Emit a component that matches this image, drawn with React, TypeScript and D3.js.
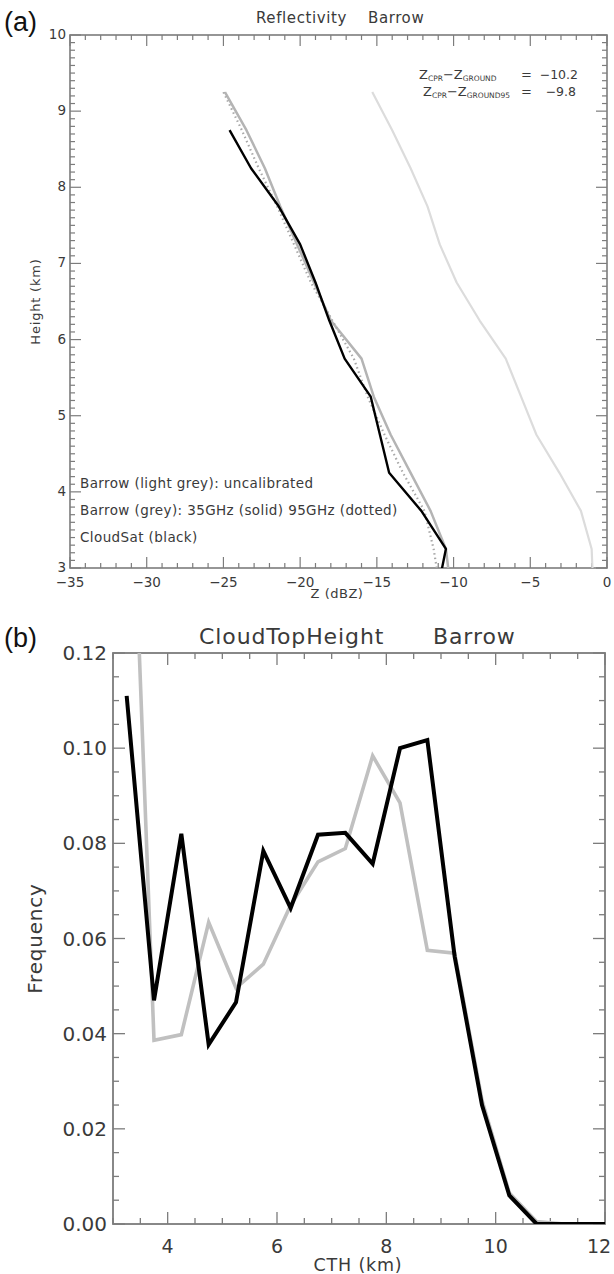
import React from "react";
import * as d3 from "d3";

// ---------- Panel (a): Reflectivity profiles ----------
const profileHeights = [9.25, 8.75, 8.25, 7.75, 7.25, 6.75, 6.25, 5.75, 5.25, 4.75, 4.25, 3.75, 3.25, 2.75];
const zUncalibrated = [-15.3, -14.0, -12.8, -11.7, -10.9, -9.8, -8.3, -6.6, -5.6, -4.6, -3.1, -1.7, -1.0, -0.9];
const z35GHz = [-24.9, -23.5, -22.3, -21.3, -20.2, -19.1, -18.0, -16.0, -15.2, -14.1, -12.8, -11.5, -10.5, -10.2];
const z95GHz = [-25.0, -23.8, -22.7, -21.5, -20.4, -19.3, -17.9, -16.5, -15.6, -14.5, -13.3, -11.9, -11.3, -10.9];
const cloudSatHeights = [8.75, 8.25, 7.75, 7.25, 6.75, 6.25, 5.75, 5.25, 4.75, 4.25, 3.75, 3.25, 2.75];
const zCloudSat = [-24.6, -23.2, -21.4, -20.0, -19.0, -18.1, -17.1, -15.4, -14.8, -14.2, -12.1, -10.5, -11.0];

const zTicks = [-35, -30, -25, -20, -15, -10, -5, 0];
const heightTicks = [3, 4, 5, 6, 7, 8, 9, 10];
const legendLines = [
  "Barrow (light grey): uncalibrated",
  "Barrow (grey): 35GHz (solid) 95GHz (dotted)",
  "CloudSat (black)",
];
const annotationValues = ["\u221210.2", "\u22129.8"];

// ---------- Panel (b): Cloud top height ----------
const cthBins = [3.25, 3.75, 4.25, 4.75, 5.25, 5.75, 6.25, 6.75, 7.25, 7.75, 8.25, 8.75, 9.25, 9.75, 10.25, 10.75, 11.25, 11.75, 12.25];
const freqCloudSat = [0.111, 0.047, 0.082, 0.0377, 0.0466, 0.0784, 0.0664, 0.0818, 0.0822, 0.0757, 0.1, 0.1017, 0.0562, 0.025, 0.006, 0, 0, 0, 0];
const freqGround = [0.19, 0.0386, 0.0398, 0.0634, 0.0496, 0.0546, 0.067, 0.0761, 0.0789, 0.0984, 0.0885, 0.0575, 0.0569, 0.026, 0.0065, 0.0005, 0, 0, 0];
const cthTicks = [4, 6, 8, 10, 12];
const freqTicks = [0, 0.02, 0.04, 0.06, 0.08, 0.1, 0.12];

const FONT = "'DejaVu Sans', sans-serif";
const AXIS = "#7c7c7c";
const TXT = "#3a3a3a";

export default function App() {
  // scales panel a
  const xA = d3.scaleLinear().domain([-35, 0]).range([70, 607]);
  const yA = d3.scaleLinear().domain([3, 10]).range([568, 35]);
  // scales panel b
  const xB = d3.scaleLinear().domain([3, 12]).range([113, 605]);
  const yB = d3.scaleLinear().domain([0, 0.12]).range([1224, 653]);

  const profLine = (zs: number[], hs: number[]) =>
    d3.line<number>().x((_, i) => xA(zs[i])).y((_, i) => yA(hs[i]))(zs) || "";
  const cthLine = (fs: number[]) =>
    d3.line<number>().x((_, i) => xB(cthBins[i])).y((_, i) => yB(fs[i]))(fs) || "";

  const [ax0, ax1] = xA.range();
  const [ay0, ay1] = yA.range(); // bottom, top
  const [bx0, bx1] = xB.range();
  const [by0, by1] = yB.range();

  const zMinor = d3.range(-35, 0.001, 1);
  const hMinor = d3.range(3, 10.0001, 0.1);
  const cthMinor = d3.range(3, 12.001, 0.5);
  const fMinor = d3.range(0, 0.12001, 0.005);

  return (
    <svg width={614} height={1274} style={{ position: "absolute", left: 0, top: 0, background: "#fff" }} fontFamily={FONT}>
      <defs>
        <clipPath id="clipA"><rect x={ax0} y={ay1} width={ax1 - ax0} height={ay0 - ay1} /></clipPath>
        <clipPath id="clipB"><rect x={bx0} y={by1} width={bx1 - bx0} height={by0 - by1} /></clipPath>
      </defs>

      {/* ================= Panel (a) ================= */}
      <text x={4} y={31} fontSize={27} fill="#111" fontFamily="'Liberation Sans', sans-serif">(a)</text>
      <text x={256} y={23} fontSize={15} fill={TXT} letterSpacing={0.6}>Reflectivity</text>
      <text x={368} y={23} fontSize={15} fill={TXT} letterSpacing={0.6}>Barrow</text>

      {/* ticks */}
      <g stroke={AXIS} strokeWidth={1.2}>
        {zMinor.map((v, i) => {
          const major = Math.abs(v % 5) < 1e-6;
          const L = major ? 11 : 5;
          return (
            <g key={"zx" + i}>
              <line x1={xA(v)} x2={xA(v)} y1={ay0} y2={ay0 - L} />
              <line x1={xA(v)} x2={xA(v)} y1={ay1} y2={ay1 + L} />
            </g>
          );
        })}
        {hMinor.map((v, i) => {
          const major = Math.abs(v - Math.round(v)) < 1e-6;
          const L = major ? 11 : 5;
          return (
            <g key={"hy" + i}>
              <line x1={ax0} x2={ax0 + L} y1={yA(v)} y2={yA(v)} />
              <line x1={ax1} x2={ax1 - L} y1={yA(v)} y2={yA(v)} />
            </g>
          );
        })}
      </g>
      <rect x={ax0} y={ay1} width={ax1 - ax0} height={ay0 - ay1} fill="none" stroke={AXIS} strokeWidth={1.6} />

      {zTicks.map((v) => (
        <text key={"zt" + v} x={xA(v)} y={ay0 + 19} fontSize={13.5} fill={TXT} textAnchor="middle">
          {v < 0 ? "\u2212" + Math.abs(v) : String(v)}
        </text>
      ))}
      {heightTicks.map((v) => (
        <text key={"ht" + v} x={ax0 - 4} y={yA(v) + 4} fontSize={13.5} fill={TXT} textAnchor="end">{v}</text>
      ))}
      <text x={337} y={598} fontSize={13} fill={TXT} textAnchor="middle" letterSpacing={0.5}>Z (dBZ)</text>
      <text transform={`translate(40,${yA(6.5)}) rotate(-90)`} fontSize={13} fill={TXT} textAnchor="middle" letterSpacing={0.8}>Height (km)</text>

      {/* annotations */}
      <text x={419} y={79} fontSize={13} fill={TXT}>
        <tspan>Z</tspan><tspan fontSize={7.5} dy={2}>CPR</tspan><tspan dy={-2}>{"\u2212Z"}</tspan><tspan fontSize={7.5} dy={2}>GROUND</tspan>
      </text>
      <text x={521} y={79} fontSize={13} fill={TXT}>=</text>
      <text x={578} y={79} fontSize={12.5} fill={TXT} textAnchor="end">{annotationValues[0]}</text>
      <text x={423} y={96} fontSize={13} fill={TXT}>
        <tspan>Z</tspan><tspan fontSize={7.5} dy={2}>CPR</tspan><tspan dy={-2}>{"\u2212Z"}</tspan><tspan fontSize={7.5} dy={2}>GROUND95</tspan>
      </text>
      <text x={521} y={96} fontSize={13} fill={TXT}>=</text>
      <text x={576} y={96} fontSize={12.5} fill={TXT} textAnchor="end">{annotationValues[1]}</text>

      {/* legend text */}
      {legendLines.map((t, i) => (
        <text key={"lg" + i} x={80} y={488 + i * 27} fontSize={13.5} fill={TXT} letterSpacing={0.4}>{t}</text>
      ))}

      <g clipPath="url(#clipA)" fill="none" strokeLinejoin="round">
        <path d={profLine(zUncalibrated, profileHeights)} stroke="#dcdcdc" strokeWidth={2.2} />
        <path d={profLine(z35GHz, profileHeights)} stroke="#b4b4b4" strokeWidth={2.5} />
        <path d={profLine(z95GHz, profileHeights)} stroke="#a8a8a8" strokeWidth={2.2} strokeDasharray="1.5,3" />
        <path d={profLine(zCloudSat, cloudSatHeights)} stroke="#000" strokeWidth={2.4} />
      </g>

      {/* ================= Panel (b) ================= */}
      <text x={4} y={647} fontSize={27} fill="#111" fontFamily="'Liberation Sans', sans-serif">(b)</text>
      <text x={199} y={644} fontSize={22} fill={TXT} letterSpacing={0.9}>CloudTopHeight</text>
      <text x={433} y={644} fontSize={22} fill={TXT} letterSpacing={0.9}>Barrow</text>

      <g stroke={AXIS} strokeWidth={1.3}>
        {cthMinor.map((v, i) => {
          const major = Math.abs(v % 2) < 1e-6;
          const L = major ? 12 : 6;
          return (
            <g key={"cx" + i}>
              <line x1={xB(v)} x2={xB(v)} y1={by0} y2={by0 - L} />
              <line x1={xB(v)} x2={xB(v)} y1={by1} y2={by1 + L} />
            </g>
          );
        })}
        {fMinor.map((v, i) => {
          const major = Math.abs(v / 0.02 - Math.round(v / 0.02)) < 1e-6;
          const L = major ? 12 : 6;
          return (
            <g key={"fy" + i}>
              <line x1={bx0} x2={bx0 + L} y1={yB(v)} y2={yB(v)} />
              <line x1={bx1} x2={bx1 - L} y1={yB(v)} y2={yB(v)} />
            </g>
          );
        })}
      </g>
      <rect x={bx0} y={by1} width={bx1 - bx0} height={by0 - by1} fill="none" stroke={AXIS} strokeWidth={1.8} />

      {cthTicks.map((v) => (
        <text key={"ct" + v} x={Math.min(xB(v), 599)} y={by0 + 29} fontSize={19} fill={TXT} textAnchor="middle">{v}</text>
      ))}
      {freqTicks.map((v) => (
        <text key={"ft" + v} x={bx0 - 6} y={yB(v) + 7} fontSize={20} fill={TXT} textAnchor="end">{v.toFixed(2)}</text>
      ))}
      <text x={358} y={1271} fontSize={17.5} fill={TXT} textAnchor="middle" letterSpacing={0.8}>CTH (km)</text>
      <text transform={`translate(42,${yB(0.06)}) rotate(-90)`} fontSize={20} fill={TXT} textAnchor="middle" letterSpacing={0.8}>Frequency</text>

      <g clipPath="url(#clipB)" fill="none" strokeLinejoin="miter">
        <path d={cthLine(freqGround)} stroke="#c0c0c0" strokeWidth={3.6} />
        <path d={cthLine(freqCloudSat)} stroke="#000" strokeWidth={4} />
      </g>
    </svg>
  );
}
